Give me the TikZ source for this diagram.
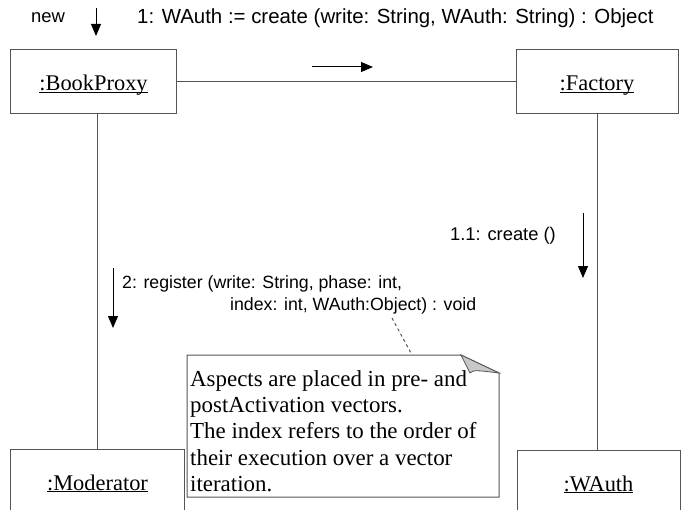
\documentclass[tikz,border=0pt]{standalone}
\usepackage{fontspec}
\setmainfont{Liberation Serif}
\setsansfont{Liberation Sans}
\usetikzlibrary{arrows.meta,positioning,calc}

\definecolor{linegray}{RGB}{85,85,85}
\definecolor{foldgray}{RGB}{200,200,200}
\newcommand\objname[1]{\underline{\smash{#1}}}

\tikzset{
  x=1bp,y=-1bp,
  obj/.style={draw=linegray,line width=1bp,minimum height=64bp,inner sep=0pt,
    text height=20bp,text depth=2bp,font=\fontsize{22.5}{26}\selectfont},
  msg/.style={inner sep=0pt,font=\sffamily\fontsize{17.8}{23}\selectfont},
  call/.style={line width=1bp,-{Triangle[length=12bp,width=10bp]}},
  link/.style={draw=linegray,line width=1bp}
}

\begin{document}
\begin{tikzpicture}
\useasboundingbox (0,0) rectangle (682,510);
\clip (0,0) rectangle (682,510);

% objects
\node[obj,minimum width=165bp] (proxy) at (93.5,82) {\objname{:BookProxy}};
\node[obj,minimum width=162bp] (factory) at (597,82) {\objname{:Factory}};
\node[obj,minimum width=173bp] (moderator) at (97.5,481) {\objname{:Moderator}};
\node[obj,minimum width=163bp] (wauth) at (598.5,482) {\objname{:WAuth}};

% links
\draw[link] (proxy.east) -- (factory.west);
\draw[link] (moderator.north) -- (moderator.north |- proxy.south);
\draw[link] (factory.south) -- (factory.south |- wauth.north);

% messages
\node[msg,anchor=west,font=\sffamily\fontsize{18.5}{22}\selectfont] (newlbl) at (31,18) {new};
\node[msg,anchor=west,font=\sffamily\fontsize{20.5}{24}\selectfont] (createlbl) at (137,18)
  {1: WAuth := create (write: String, WAuth: String) : Object};
\node[msg,anchor=east,font=\sffamily\fontsize{18.4}{22}\selectfont] (wauthlbl) at (556,236) {1.1: create ()};
\node[msg,anchor=north west,align=left] (reglbl) at (122,275)
  {2: register (write: String, phase: int,\\\hspace*{108bp}index: int, WAuth:Object) : void};

\coordinate (new0) at (96,8);   \coordinate (new1) at (96,36);
\coordinate (m10) at (312,67);  \coordinate (m11) at (373,67);
\coordinate (m20) at (113,268); \coordinate (m21) at (113,328);
\coordinate (m30) at (583,213); \coordinate (m31) at (583,278);
\draw[call] (new0) -- (new1);
\draw[call] (m10) -- (m11);
\draw[call] (m20) -- (m21);
\draw[call] (m30) -- (m31);

% note
\draw[link] (187,355) -- (461,355) -- (499,373) -- (499,497) -- (187,497) -- cycle;
\draw[draw=linegray,fill=foldgray,line width=0.8bp] (461,355) .. controls (466,364) .. (470,373) .. controls (474,370) .. (499,373) -- cycle;
\node[anchor=north west,align=left,inner sep=0pt,font=\fontsize{23}{26.5}\selectfont] (note) at (190,370)
  {Aspects are placed in pre- and\\postActivation vectors.\\The index refers to the order of\\their execution over a vector\\iteration.};
\coordinate (noteref) at (392,318);
\draw[link,dashed,dash pattern=on 3bp off 3bp] (noteref) -- (412,355);
\end{tikzpicture}
\end{document}
